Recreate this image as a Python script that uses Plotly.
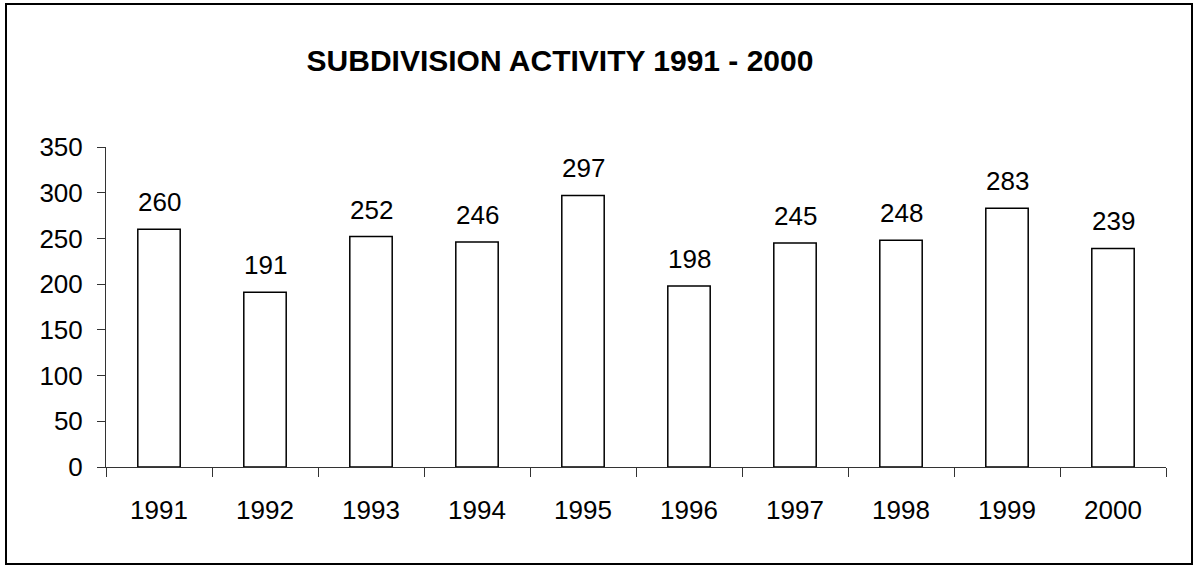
import plotly.graph_objects as go

years = ["1991", "1992", "1993", "1994", "1995", "1996", "1997", "1998", "1999", "2000"]
values = [260, 191, 252, 246, 297, 198, 245, 248, 283, 239]
y_ticks = [0, 50, 100, 150, 200, 250, 300, 350]
title_text = "SUBDIVISION ACTIVITY 1991 - 2000"

W, H = 1194, 565
L, R, T, B = 106, 28, 147, 98
pw, ph = W - L - R, H - T - B
FONT = "Liberation Sans, Arial, sans-serif"

fig = go.Figure()
fig.add_trace(go.Bar(
    x=years, y=values,
    marker=dict(color="white", line=dict(color="black", width=1.5)),
    width=0.4,
    hoverinfo="skip",
))

for i, v in enumerate(values):
    fig.add_annotation(x=i, y=v, text=str(v), showarrow=False,
                       yanchor="bottom", yshift=10,
                       font=dict(family=FONT, size=26, color="black"))

def px_x(px):
    return (px - L) / pw

def px_y(py):
    return (H - B - py) / ph

fig.add_shape(type="rect", xref="paper", yref="paper",
              x0=px_x(6), x1=px_x(1192), y0=px_y(564), y1=px_y(4),
              line=dict(color="black", width=2), fillcolor="rgba(0,0,0,0)")

fig.update_layout(
    width=W, height=H,
    margin=dict(l=L, r=R, t=T, b=B),
    paper_bgcolor="white", plot_bgcolor="white",
    showlegend=False,
    font=dict(family=FONT, size=26, color="black"),
    title=dict(text="<b>" + title_text + "</b>", x=560 / W, xanchor="center",
               y=1 - 60 / H, yanchor="middle",
               font=dict(family=FONT, size=30, color="black")),
    xaxis=dict(
        type="category", tickson="boundaries", ticks="outside", ticklen=9,
        tickcolor="#333", tickwidth=1,
        showline=True, linecolor="#333", linewidth=1,
        showgrid=False, zeroline=False, tickangle=0, automargin=False,
        range=[-0.5, len(years) - 0.5],
        tickfont=dict(size=26), ticklabelstandoff=20,
    ),
    yaxis=dict(
        range=[0, 350], tickvals=y_ticks, ticks="outside", ticklen=8,
        tickcolor="#333", tickwidth=1,
        showline=True, linecolor="#333", linewidth=1,
        showgrid=False, zeroline=False, automargin=False,
        tickfont=dict(size=26), ticklabelstandoff=9,
    ),
)

fig.write_html("out.html", config={"displayModeBar": False},
               post_script="document.body.style.margin='0px';document.body.style.overflow='hidden';")
